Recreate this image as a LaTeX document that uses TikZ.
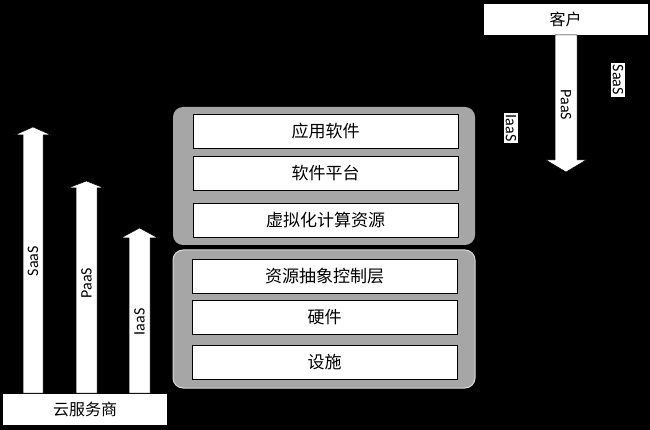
\documentclass[tikz,border=0pt]{standalone}
\usepackage{fontspec}
\setmainfont{Carlito}
\newfontfamily\cjk{Noto Sans CJK SC}
\begin{document}
\begin{tikzpicture}[x=1pt,y=-1pt,
  layerbox/.style={draw=black,line width=0.8pt,fill=white,minimum width=265pt,minimum height=34pt,inner sep=0pt,font=\cjk\fontsize{17}{19}\selectfont},
  endbox/.style={draw=black,line width=0.8pt,fill=white,inner sep=0pt,font=\cjk\fontsize{16}{18}\selectfont},
  container/.style={fill=black!35,rounded corners=10pt},
  blockarrow/.style={fill=white,draw=black,line width=0.5pt},
  alabel/.style={font=\fontsize{16}{18}\selectfont,inner sep=1pt},
  flabel/.style={font=\fontsize{16}{18}\selectfont,fill=white,inner sep=2pt}]
\useasboundingbox (0,0) rectangle (650,430);
\fill[black] (0,0) rectangle (650,430);
% containers
\path[container] (173,107) rectangle (475,245);
\path[container,draw=white!85!black,line width=1pt] (173,250) rectangle (475,388);
% layers
\node[layerbox] (app) at (325.5,131) {应用软件};
\node[layerbox] (plat) at (325.5,173.5) {软件平台};
\node[layerbox] (virt) at (325.5,220) {虚拟化计算资源};
\node[layerbox] (ctrl) at (324.5,276) {资源抽象控制层};
\node[layerbox] (hw) at (324.5,317) {硬件};
\node[layerbox] (fac) at (324.5,362.5) {设施};
% customer
\node[endbox,minimum width=165pt,minimum height=32pt] (cust) at (565.5,19) {客户};
\draw[blockarrow] (555,35) -- (577,35) -- (577,160) -- (586,160) -- (566,172) -- (546,160) -- (555,160) -- cycle;
\node[alabel,rotate=-90] (rp) at (566,105) {PaaS};
\node[flabel,rotate=-90] (rs) at (618,80) {SaaS};
\node[flabel,rotate=-90] (ri) at (511,128) {IaaS};
% provider
\node[endbox,minimum width=165pt,minimum height=32pt] (prov) at (85,409) {云服务商};
\draw[blockarrow] (23,393) -- (23,135) -- (15,135) -- (33,127) -- (51,135) -- (43,135) -- (43,393) -- cycle;
\draw[blockarrow] (76,393) -- (76,188) -- (68,188) -- (86.5,181) -- (104,188) -- (97,188) -- (97,393) -- cycle;
\draw[blockarrow] (129,393) -- (129,238) -- (121,238) -- (139.5,228) -- (158,238) -- (150,238) -- (150,393) -- cycle;
\node[alabel,rotate=90] (ls) at (33,261) {SaaS};
\node[alabel,rotate=90] (lp) at (86.5,283) {PaaS};
\node[alabel,rotate=90] (li) at (139.5,322) {IaaS};
\end{tikzpicture}
\end{document}
